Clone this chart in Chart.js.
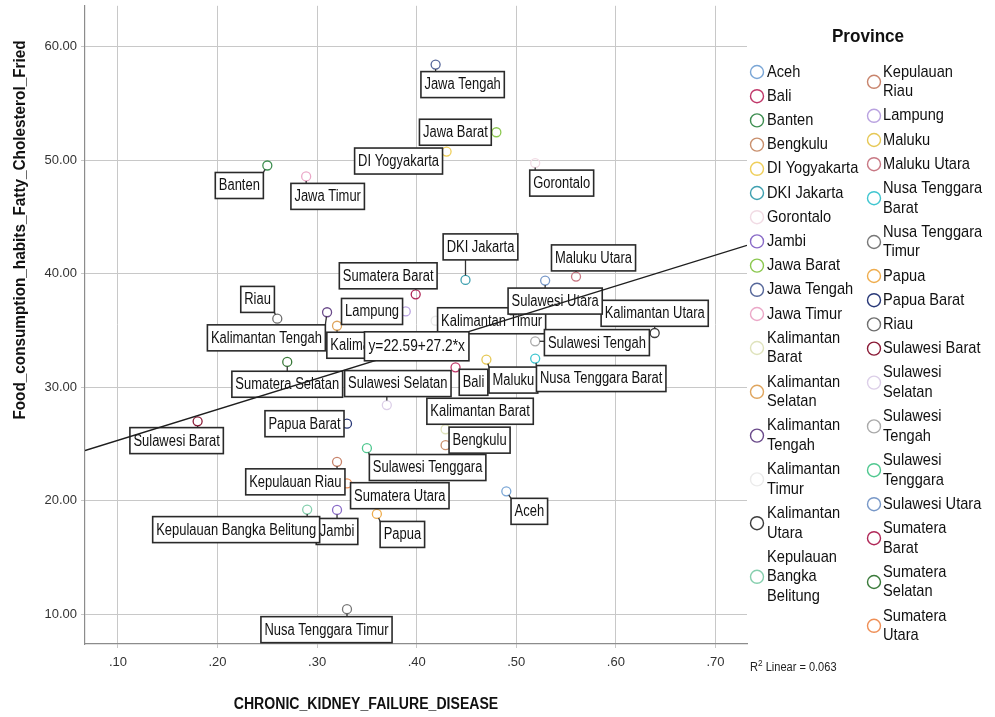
<!DOCTYPE html>
<html>
<head>
<meta charset="utf-8">
<script src="https://cdn.jsdelivr.net/npm/chart.js@4.4.1/dist/chart.umd.min.js"></script>
<style>
  html, body { margin: 0; padding: 0; background: #ffffff; }
  #wrap { width: 995px; height: 717px; position: relative; }
</style>
</head>
<body>
<div id="wrap"><canvas id="chart" width="995" height="717"></canvas></div>
<script>
// Province names (legend order)
const provinces = [
  'Aceh', 'Bali', 'Banten', 'Bengkulu', 'DI Yogyakarta', 'DKI Jakarta', 'Gorontalo',
  'Jambi', 'Jawa Barat', 'Jawa Tengah', 'Jawa Timur', 'Kalimantan Barat',
  'Kalimantan Selatan', 'Kalimantan Tengah', 'Kalimantan Timur', 'Kalimantan Utara',
  'Kepulauan Bangka Belitung', 'Kepulauan Riau', 'Lampung', 'Maluku', 'Maluku Utara',
  'Nusa Tenggara Barat', 'Nusa Tenggara Timur', 'Papua', 'Papua Barat', 'Riau',
  'Sulawesi Barat', 'Sulawesi Selatan', 'Sulawesi Tengah', 'Sulawesi Tenggara',
  'Sulawesi Utara', 'Sumatera Barat', 'Sumatera Selatan', 'Sumatera Utara'
];

// CHRONIC_KIDNEY_FAILURE_DISEASE per province
const kidneyFailure = [
  0.490, 0.439, 0.250, 0.429, 0.430, 0.449, 0.519,
  0.320, 0.480, 0.419, 0.289, 0.429,
  0.320, 0.310, 0.419, 0.639,
  0.290, 0.320, 0.389, 0.470, 0.560,
  0.519, 0.330, 0.360, 0.330, 0.260,
  0.180, 0.370, 0.519, 0.350,
  0.529, 0.399, 0.270, 0.330
];

// Food_consumption_habits_Fatty_Cholesterol_Fried per province
const friedFood = [
  20.82, 31.75, 49.53, 24.89, 50.76, 39.45, 49.74,
  19.18, 52.46, 58.42, 48.57, 26.29,
  35.41, 36.60, 35.85, 34.77,
  19.21, 23.42, 36.67, 32.43, 39.74,
  32.52, 10.44, 18.83, 26.78, 36.03,
  26.99, 28.42, 34.04, 24.62,
  39.39, 38.18, 32.22, 21.52
];

// Marker colour of each province
const provinceColors = [
  '#7aa6d6', '#c0386a', '#3f8f52', '#c9906e', '#efcf5a', '#3fa0b0', '#f1dbe4',
  '#8a6cc8', '#8cc850', '#56679a', '#eba8c8', '#dfe3bc',
  '#dfa55e', '#6a4a8a', '#ebebeb', '#3c3c3c',
  '#86cfae', '#c8846c', '#b9a2e0', '#e6c855', '#c87884',
  '#40c6d0', '#777777', '#efad4e', '#283878', '#6e6e6e',
  '#8a1a36', '#dccfe8', '#aaaaaa', '#50c890',
  '#7898c8', '#b02858', '#3a7a3a', '#ef8f56'
];

// Legend text, wrapped as shown in the two legend columns
const legendText = [
  'Aceh', 'Bali', 'Banten', 'Bengkulu', 'DI Yogyakarta', 'DKI Jakarta', 'Gorontalo',
  'Jambi', 'Jawa Barat', 'Jawa Tengah', 'Jawa Timur', 'Kalimantan\nBarat',
  'Kalimantan\nSelatan', 'Kalimantan\nTengah', 'Kalimantan\nTimur', 'Kalimantan\nUtara',
  'Kepulauan\nBangka\nBelitung', 'Kepulauan\nRiau', 'Lampung', 'Maluku', 'Maluku Utara',
  'Nusa Tenggara\nBarat', 'Nusa Tenggara\nTimur', 'Papua', 'Papua Barat', 'Riau',
  'Sulawesi Barat', 'Sulawesi\nSelatan', 'Sulawesi\nTengah', 'Sulawesi\nTenggara',
  'Sulawesi Utara', 'Sumatera\nBarat', 'Sumatera\nSelatan', 'Sumatera\nUtara'
];

// Axis ticks
const xTickValues = [0.1, 0.2, 0.3, 0.4, 0.5, 0.6, 0.7];
const yTickValues = [10, 20, 30, 40, 50, 60];

// Linear fit reported on the chart
const fitIntercept = 22.59;
const fitSlope = 27.2;
const fitR2 = '0.063';

// Axis extents
const xMin = 0.0669, xMax = 0.7317;
const yMin = 7.37, yMax = 63.6;

// Offset (px) of each label box centre from its point
const labelOffsets = [
  [23, 20], [18, 15], [-28, 20], [34, -5], [-48, 9.5], [15, -33], [26.5, 20],
  [0, 21.5], [-41, 0], [27, 20], [21.5, 20], [34.5, -18],
  [49.5, 19.5], [-60.7, 25.6], [56, 0], [0, -19.7],
  [-71, 20], [-41.7, 20], [-33.7, 0], [27, 20.5], [17.5, -18.7],
  [66, 20], [-20.5, 20.5], [25.5, 20.5], [-42.5, 0], [-19.7, -19.3],
  [-21, 19.3], [11, -21.5], [61.7, 1.3], [60.7, 19.3],
  [10, 20.5], [-27.5, -18.5], [0, 22.3], [52.8, 12.3]
];

// Where the fit equation box sits, in data units
const equationAnchor = { x: 0.40, y: 33.6 };

const FONT = '"Liberation Sans", Arial, sans-serif';

function squeezedText(ctx, text, x, y, font, sx, align, color) {
  ctx.save();
  ctx.font = font;
  ctx.fillStyle = color;
  ctx.textBaseline = 'middle';
  ctx.textAlign = 'left';
  const w = ctx.measureText(text).width * sx;
  const left = align === 'center' ? x - w / 2 : (align === 'right' ? x - w : x);
  ctx.translate(left, y);
  ctx.scale(sx, 1);
  ctx.fillText(text, 0, 0);
  ctx.restore();
  return w;
}

function textWidth(ctx, text, font, sx) {
  ctx.save();
  ctx.font = font;
  const w = ctx.measureText(text).width * sx;
  ctx.restore();
  return w;
}

const LABEL_FONT = '16px ' + FONT;
const LABEL_SX = 0.81;
const LABEL_H = 26;
const LABEL_PAD = 3.5;

function drawBox(ctx, cx, cy, w, h) {
  ctx.save();
  ctx.fillStyle = '#ffffff';
  ctx.fillRect(cx - w / 2, cy - h / 2, w, h);
  ctx.lineWidth = 1.6;
  ctx.strokeStyle = '#2a2a2a';
  ctx.strokeRect(cx - w / 2, cy - h / 2, w, h);
  ctx.restore();
}

// Point labels with leader lines, drawn right after the scatter markers
const pointLabels = {
  id: 'pointLabels',
  afterDatasetDraw(chart, args) {
    if (args.index !== 1) return;
    const ctx = chart.ctx;
    const xs = chart.scales.x, ys = chart.scales.y;
    provinces.forEach((name, i) => {
      const px = xs.getPixelForValue(kidneyFailure[i]);
      const py = ys.getPixelForValue(friedFood[i]);
      const cx = px + labelOffsets[i][0];
      const cy = py + labelOffsets[i][1];
      const w = textWidth(ctx, name, LABEL_FONT, LABEL_SX) + LABEL_PAD * 2;
      const h = LABEL_H;
      // leader: from marker edge to nearest point of the box
      const nx = Math.max(cx - w / 2, Math.min(px, cx + w / 2));
      const ny = Math.max(cy - h / 2, Math.min(py, cy + h / 2));
      const d = Math.hypot(nx - px, ny - py);
      if (d > 5) {
        ctx.save();
        ctx.strokeStyle = '#333333';
        ctx.lineWidth = 1.3;
        ctx.beginPath();
        ctx.moveTo(px + (nx - px) * 4.5 / d, py + (ny - py) * 4.5 / d);
        ctx.lineTo(nx, ny);
        ctx.stroke();
        ctx.restore();
      }
      drawBox(ctx, cx, cy, w, h);
      squeezedText(ctx, name, cx, cy + 0.5, LABEL_FONT, LABEL_SX, 'center', '#111111');
    });
  },
  afterDatasetsDraw(chart) {
    const ctx = chart.ctx;
    const xs = chart.scales.x, ys = chart.scales.y;
    const cx = xs.getPixelForValue(equationAnchor.x);
    const cy = ys.getPixelForValue(equationAnchor.y);
    const eq = 'y=' + fitIntercept.toFixed(2) + '+' + fitSlope + '*x';
    const font = '17px ' + FONT;
    const w = textWidth(ctx, eq, font, LABEL_SX) + 8;
    drawBox(ctx, cx, cy, w, 29);
    squeezedText(ctx, eq, cx, cy + 0.5, font, LABEL_SX, 'center', '#111111');
  }
};

// Axis titles, legend and the R² note
const chrome = {
  id: 'chrome',
  afterDraw(chart) {
    const ctx = chart.ctx;
    // x axis title
    squeezedText(ctx, 'CHRONIC_KIDNEY_FAILURE_DISEASE', 366, 705, 'bold 16px ' + FONT, 0.88, 'center', '#111111');
    // y axis title
    ctx.save();
    ctx.translate(20, 230);
    ctx.rotate(-Math.PI / 2);
    squeezedText(ctx, 'Food_consumption_habits_Fatty_Cholesterol_Fried', 0, 0, 'bold 17px ' + FONT, 0.9, 'center', '#111111');
    ctx.restore();

    // legend
    squeezedText(ctx, 'Province', 868, 37, 'bold 18px ' + FONT, 0.95, 'center', '#111111');
    const lh = 19.6, pad = 4.6, firstY = 72;
    const cols = [
      { circleX: 757, textX: 767, items: [] },
      { circleX: 874, textX: 883, items: [] }
    ];
    provinces.forEach((p, i) => cols[i < 17 ? 0 : 1].items.push(i));
    const lf = '17px ' + FONT;
    cols.forEach(col => {
      let y = firstY;
      col.items.forEach(i => {
        const lines = legendText[i].split('\n');
        const midY = y + (lines.length - 1) * lh / 2;
        ctx.save();
        ctx.strokeStyle = provinceColors[i];
        ctx.lineWidth = 1.4;
        ctx.beginPath();
        ctx.arc(col.circleX, midY, 6.5, 0, Math.PI * 2);
        ctx.stroke();
        ctx.restore();
        lines.forEach((ln, k) => squeezedText(ctx, ln, col.textX, y + k * lh, lf, 0.86, 'left', '#111111'));
        y += lines.length * lh + pad;
      });
    });

    // R² note
    const rx = 750, ry = 668;
    const w1 = squeezedText(ctx, 'R', rx, ry, '12px ' + FONT, 0.92, 'left', '#222222');
    const w2 = squeezedText(ctx, '2', rx + w1, ry - 4, '9px ' + FONT, 0.92, 'left', '#222222');
    squeezedText(ctx, ' Linear = ' + fitR2, rx + w1 + w2, ry, '12px ' + FONT, 0.92, 'left', '#222222');
  }
};

const fitLine = [
  { x: xMin, y: fitIntercept + fitSlope * xMin },
  { x: xMax, y: fitIntercept + fitSlope * xMax }
];

const points = provinces.map((p, i) => ({ x: kidneyFailure[i], y: friedFood[i] }));

new Chart(document.getElementById('chart'), {
  type: 'scatter',
  data: {
    datasets: [
      {
        type: 'line',
        label: 'Linear fit',
        data: fitLine,
        borderColor: '#1e1e1e',
        borderWidth: 1.4,
        pointRadius: 0,
        fill: false,
        order: 1
      },
      {
        label: 'Province',
        data: points,
        pointRadius: 4.5,
        pointBorderWidth: 1.3,
        pointBorderColor: provinceColors,
        pointBackgroundColor: 'rgba(255,255,255,0)',
        order: 2
      }
    ]
  },
  options: {
    responsive: false,
    animation: false,
    devicePixelRatio: 1,
    layout: { padding: { left: 0, right: 248, top: 3, bottom: 0 } },
    plugins: { legend: { display: false }, tooltip: { enabled: false } },
    scales: {
      x: {
        type: 'linear',
        min: xMin,
        max: xMax,
        afterBuildTicks: s => { s.ticks = xTickValues.map(v => ({ value: v })); },
        afterFit: s => { s.height = 73; s.paddingLeft = 0; s.paddingRight = 0; },
        grid: { color: '#c8c8c8', lineWidth: 1, tickLength: 4 },
        border: { color: '#8c8c8c', width: 1.2 },
        ticks: {
          callback: v => v.toFixed(2).replace(/^0/, ''),
          font: { family: FONT, size: 13 },
          color: '#333333',
          padding: 7,
          maxRotation: 0,
          autoSkip: false
        }
      },
      y: {
        type: 'linear',
        min: yMin,
        max: yMax,
        afterBuildTicks: s => { s.ticks = yTickValues.map(v => ({ value: v })); },
        afterFit: s => { s.width = 85; s.paddingTop = 0; s.paddingBottom = 0; },
        grid: { color: '#c8c8c8', lineWidth: 1, tickLength: 4 },
        border: { color: '#8c8c8c', width: 1.2 },
        ticks: {
          callback: v => v.toFixed(2),
          font: { family: FONT, size: 13 },
          color: '#333333',
          padding: 4,
          autoSkip: false
        }
      }
    }
  },
  plugins: [pointLabels, chrome]
});
</script>
</body>
</html>
